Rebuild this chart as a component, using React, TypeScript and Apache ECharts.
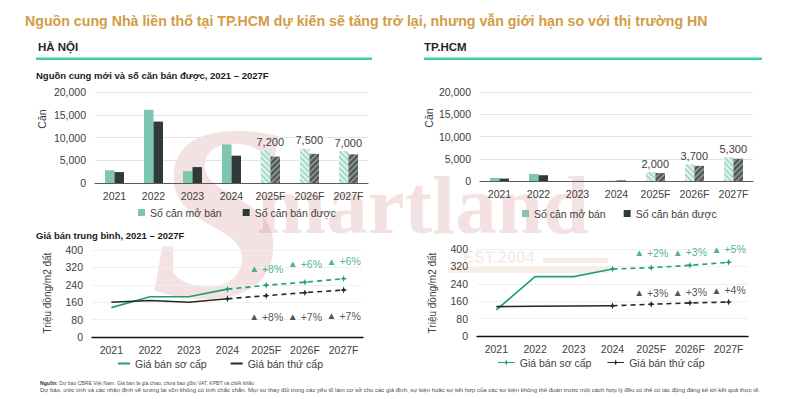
import React, { useEffect, useRef } from 'react';
import * as echarts from 'echarts';

// ---------- data ----------
const years = ['2021', '2022', '2023', '2024', '2025F', '2026F', '2027F'];
const forecastFrom = 4; // index of first forecast year

const hnSupply = [2800, 16100, 2600, 8500, 7200, 7500, 7000];
const hnSold = [2400, 13500, 3500, 6000, 5800, 6400, 6300];
const hcmSupply = [700, 1600, 0, 50, 2000, 3700, 5300];
const hcmSold = [550, 1300, 0, 120, 1800, 3400, 5000];

const hnPrimary = [135, 185, 185, 220, 238, 252, 268];
const hnSecondary = [160, 168, 160, 176, 190, 204, 216];
const hcmPrimary = [120, 273, 273, 308, 314, 325, 339];
const hcmSecondary = [135, 137, 138, 139, 146, 152, 156];

const hnPrimaryGrowth = ['+8%', '+6%', '+6%'];
const hnSecondaryGrowth = ['+8%', '+7%', '+7%'];
const hcmPrimaryGrowth = ['+2%', '+3%', '+5%'];
const hcmSecondaryGrowth = ['+3%', '+3%', '+4%'];
// heights (in price units) at which the growth notes sit
const hnPrimaryNoteAt = [313, 336, 349];
const hnSecondaryNoteAt = [92, 92, 97];
const hcmPrimaryNoteAt = [382, 386, 400];
const hcmSecondaryNoteAt = [198, 202, 211];

const barTicks = { min: 0, max: 20000, interval: 5000 };
const priceTicks = { min: 0, max: 400, interval: 80 };

const SUPPLY = 'Số căn mở bán';
const SOLD = 'Số căn bán được';
const PRIMARY = 'Giá bán sơ cấp';
const SECONDARY = 'Giá bán thứ cấp';

// ---------- styles ----------
const FONT = '"Liberation Sans", Arial, Helvetica, sans-serif';
const MINT = '#7dc7b2';
const MINT_F = '#a6d9ca';
const DARK_BAR = '#2f3b3b';
const DARK_BAR_F = '#4a5454';
const GREEN = '#1f9e78';
const BLACK = '#262626';
const LABEL = '#404040';
const STAR = 'path://M5,0 L6.3,3.7 L10,5 L6.3,6.3 L5,10 L3.7,6.3 L0,5 L3.7,3.7 Z';
const LEGEND_STAR =
  'path://M0,4.3 L18,4.3 L18,5.5 L0,5.5 Z M9,1.6 L9.9,4 L12.3,4.9 L9.9,5.8 L9,8.2 L8.1,5.8 L5.7,4.9 L8.1,4 Z M9,0 L9,0.01 L9.01,0 Z M9,9.8 L9,9.81 L9.01,9.8 Z';

const mintDecal = {
  symbol: 'rect',
  symbolSize: 1,
  dashArrayX: [1, 0],
  dashArrayY: [1.5, 1.5],
  rotation: Math.PI / 4,
  color: 'rgba(255,255,255,0.7)',
};
const darkDecal = {
  symbol: 'rect',
  symbolSize: 1,
  dashArrayX: [1, 0],
  dashArrayY: [1.2, 1.3],
  rotation: -Math.PI / 4,
  color: 'rgba(255,255,255,0.35)',
};

function fmt(v: number) {
  return v.toLocaleString('en-US');
}

function barSeries(name: string, values: number[], idx: number, isSupply: boolean) {
  return {
    type: 'bar',
    name,
    xAxisIndex: idx,
    yAxisIndex: idx,
    barWidth: 9.5,
    barGap: '0%',
    itemStyle: { color: isSupply ? MINT : DARK_BAR },
    label: {
      show: false,
      position: 'top',
      distance: 3,
      offset: [4.5, 0],
      fontSize: 11,
      color: LABEL,
      formatter: (p: any) => fmt(p.value),
    },
    data: values.map((v, i) =>
      i >= forecastFrom
        ? {
            value: v,
            itemStyle: {
              color: isSupply ? MINT_F : DARK_BAR_F,
              decal: isSupply ? mintDecal : darkDecal,
            },
            label: { show: isSupply },
          }
        : v
    ),
  };
}

function lineSeries(name: string, values: number[], idx: number, color: string) {
  const solid = values.map((v, i) => (i <= forecastFrom - 1 ? v : '-'));
  const dashed = values.map((v, i) => (i >= forecastFrom - 1 ? v : '-'));
  return [
    {
      type: 'line',
      name,
      xAxisIndex: idx,
      yAxisIndex: idx,
      data: solid,
      showSymbol: false,
      symbol: STAR,
      symbolSize: 7,
      lineStyle: { color, width: 1.6 },
      itemStyle: { color },
      z: 4,
    },
    {
      type: 'line',
      name,
      xAxisIndex: idx,
      yAxisIndex: idx,
      data: dashed,
      showSymbol: true,
      symbol: STAR,
      symbolSize: 7,
      lineStyle: { color, width: 1.6, type: [5, 4] },
      itemStyle: { color },
      z: 4,
    },
  ];
}

function noteSeries(labels: string[], at: number[], idx: number, color: string) {
  return {
    type: 'scatter',
    xAxisIndex: idx,
    yAxisIndex: idx,
    symbolSize: 1,
    itemStyle: { color: 'transparent' },
    silent: true,
    z: 5,
    label: {
      show: true,
      position: 'inside',
      color,
      rich: {
        t: { fontSize: 10, color, fontFamily: FONT },
        v: { fontSize: 10.5, color, fontFamily: FONT },
      },
    },
    data: labels.map((l, k) => ({
      value: [years[forecastFrom + k], at[k]],
      label: { formatter: `{t|▲}{v| ${l}}` },
    })),
  };
}

const grids = [
  { left: 95, top: 92, width: 273, height: 91 },
  { left: 480, top: 92, width: 273, height: 89 },
  { left: 92, top: 250, width: 271, height: 87 },
  { left: 477, top: 249, width: 271, height: 87 },
];

const xAxes = grids.map((_, i) => ({
  type: 'category',
  gridIndex: i,
  data: years,
  axisTick: { show: false },
  axisLine: { lineStyle: { color: i < 2 ? '#595959' : '#111', width: i < 2 ? 1 : 1.4 } },
  axisLabel: { color: LABEL, fontSize: 10.5, margin: 7, fontFamily: FONT },
}));

const yAxes = grids.map((_, i) => ({
  type: 'value',
  gridIndex: i,
  ...(i < 2 ? barTicks : priceTicks),
  axisLine: { show: false },
  axisTick: { show: false },
  axisLabel: { color: LABEL, fontSize: 10.5, margin: 9, fontFamily: FONT },
  splitLine: { lineStyle: { color: i < 2 ? '#e3e3e3' : '#f0f0f0', width: 1 } },
}));

const legendText = { fontSize: 10.5, color: LABEL, fontFamily: FONT };

const legends = [
  {
    left: 138,
    top: 207,
    padding: 0,
    itemGap: 21,
    itemWidth: 7,
    itemHeight: 7,
    textStyle: legendText,
    data: [
      { name: SUPPLY, icon: 'rect' },
      { name: SOLD, icon: 'rect' },
    ],
  },
  {
    left: 522,
    top: 208,
    padding: 0,
    itemGap: 18,
    itemWidth: 7,
    itemHeight: 7,
    textStyle: legendText,
    data: [
      { name: SUPPLY, icon: 'rect', itemStyle: { color: '#8fbfb0' } },
      { name: SOLD, icon: 'rect' },
    ],
  },
  {
    left: 118,
    top: 358,
    padding: 0,
    itemGap: 24,
    itemWidth: 12,
    itemHeight: 2,
    textStyle: legendText,
    data: [
      { name: PRIMARY, icon: 'rect' },
      { name: SECONDARY, icon: 'rect' },
    ],
  },
  {
    left: 498,
    top: 357,
    padding: 0,
    itemGap: 16,
    itemWidth: 17,
    itemHeight: 9,
    textStyle: legendText,
    data: [
      { name: PRIMARY, icon: LEGEND_STAR },
      { name: SECONDARY, icon: LEGEND_STAR },
    ],
  },
];

const pink = 'rgba(200,105,105,0.2)';

const graphic = [
  // watermark
  {
    type: 'text',
    x: 150,
    y: 212,
    silent: true,
    style: {
      text: 'S',
      font: 'italic bold 250px "Liberation Serif"',
      fill: pink,
      textVerticalAlign: 'middle',
    },
  },
  {
    type: 'text',
    x: 257,
    y: 205,
    silent: true,
    style: {
      text: 'martland',
      font: 'bold 83px "Liberation Serif"',
      fill: pink,
      textVerticalAlign: 'middle',
    },
  },
  {
    type: 'text',
    x: 463,
    y: 257,
    silent: true,
    style: {
      text: 'EST.2004',
      font: 'bold 16.5px ' + FONT,
      fill: 'rgba(200,105,105,0.15)',
      textVerticalAlign: 'middle',
    },
  },
  { type: 'rect', silent: true, shape: { x: 543, y: 258, width: 65, height: 5 }, style: { fill: '#f7ece4' } },
  { type: 'rect', silent: true, shape: { x: 448, y: 267, width: 160, height: 6 }, style: { fill: '#f8eee7' } },
  // title
  {
    type: 'text',
    x: 25,
    y: 21,
    style: {
      text: 'Nguồn cung Nhà liền thổ tại TP.HCM dự kiến sẽ tăng trở lại, nhưng vẫn giới hạn so với thị trường HN',
      font: 'bold 14.2px ' + FONT,
      fill: '#d29c45',
      textVerticalAlign: 'middle',
    },
  },
  {
    type: 'text',
    x: 38,
    y: 47,
    style: { text: 'HÀ NỘI', font: 'bold 11.5px ' + FONT, fill: '#262626', textVerticalAlign: 'middle' },
  },
  {
    type: 'text',
    x: 424,
    y: 47,
    style: { text: 'TP.HCM', font: 'bold 11.5px ' + FONT, fill: '#262626', textVerticalAlign: 'middle' },
  },
  { type: 'rect', shape: { x: 36, y: 57.5, width: 336, height: 2.5 }, style: { fill: '#3fd092' } },
  { type: 'rect', shape: { x: 424, y: 57.5, width: 338, height: 2.5 }, style: { fill: '#3fd092' } },
  {
    type: 'text',
    x: 36,
    y: 75,
    style: {
      text: 'Nguồn cung mới và số căn bán được, 2021 – 2027F',
      font: 'bold 9.5px ' + FONT,
      fill: '#1a1a1a',
      textVerticalAlign: 'middle',
    },
  },
  {
    type: 'text',
    x: 36,
    y: 235,
    style: {
      text: 'Giá bán trung bình, 2021 – 2027F',
      font: 'bold 9.5px ' + FONT,
      fill: '#1a1a1a',
      textVerticalAlign: 'middle',
    },
  },
  // axis names
  {
    type: 'text',
    x: 42,
    y: 119,
    rotation: Math.PI / 2,
    style: { text: 'Căn', font: '10.5px ' + FONT, fill: LABEL, textAlign: 'center', textVerticalAlign: 'middle' },
  },
  {
    type: 'text',
    x: 429,
    y: 118,
    rotation: Math.PI / 2,
    style: { text: 'Căn', font: '10.5px ' + FONT, fill: LABEL, textAlign: 'center', textVerticalAlign: 'middle' },
  },
  {
    type: 'text',
    x: 47,
    y: 293,
    rotation: Math.PI / 2,
    style: {
      text: 'Triệu đồng/m2 đất',
      font: '10px ' + FONT,
      fill: LABEL,
      textAlign: 'center',
      textVerticalAlign: 'middle',
    },
  },
  {
    type: 'text',
    x: 432,
    y: 293,
    rotation: Math.PI / 2,
    style: {
      text: 'Triệu đồng/m2 đất',
      font: '10px ' + FONT,
      fill: LABEL,
      textAlign: 'center',
      textVerticalAlign: 'middle',
    },
  },
  // footnote
  {
    type: 'text',
    x: 40,
    y: 383,
    style: {
      text: '{b|Nguồn:} Dự báo CBRE Việt Nam. Giá bán là giá chào, chưa bao gồm VAT, KPBT và chiết khấu',
      font: '5.1px ' + FONT,
      fill: '#4d4d4d',
      textVerticalAlign: 'middle',
      rich: { b: { fontWeight: 'bold', fontSize: 5.1, fontFamily: FONT, fill: '#333' } },
    },
  },
  {
    type: 'text',
    x: 40,
    y: 390,
    style: {
      text:
        'Dự báo, ước tính và các nhận định về tương lai vốn không có tính chắc chắn. Mọi sự thay đổi trong các yếu tố làm cơ sở cho các giả định, sự kiện hoặc sự kết hợp của các sự kiện không thể đoán trước một cách hợp lý đều có thể có tác động đáng kể tới kết quả thực tế.',
      font: '6px ' + FONT,
      fill: '#4d4d4d',
      textVerticalAlign: 'middle',
    },
  },
];

const option = {
  animation: false,
  backgroundColor: '#ffffff',
  textStyle: { fontFamily: FONT },
  grid: grids,
  xAxis: xAxes,
  yAxis: yAxes,
  legend: legends,
  graphic,
  series: [
    barSeries(SUPPLY, hnSupply, 0, true),
    barSeries(SOLD, hnSold, 0, false),
    barSeries(SUPPLY, hcmSupply, 1, true),
    barSeries(SOLD, hcmSold, 1, false),
    ...lineSeries(PRIMARY, hnPrimary, 2, GREEN),
    ...lineSeries(SECONDARY, hnSecondary, 2, BLACK),
    ...lineSeries(PRIMARY, hcmPrimary, 3, GREEN),
    ...lineSeries(SECONDARY, hcmSecondary, 3, BLACK),
    noteSeries(hnPrimaryGrowth, hnPrimaryNoteAt, 2, GREEN),
    noteSeries(hnSecondaryGrowth, hnSecondaryNoteAt, 2, BLACK),
    noteSeries(hcmPrimaryGrowth, hcmPrimaryNoteAt, 3, GREEN),
    noteSeries(hcmSecondaryGrowth, hcmSecondaryNoteAt, 3, BLACK),
  ],
};

export default function App() {
  const ref = useRef<HTMLDivElement>(null);
  useEffect(() => {
    if (!ref.current) return;
    const chart = echarts.init(ref.current, null, { renderer: 'svg' });
    chart.setOption(option as any);
    return () => chart.dispose();
  }, []);
  return (
    <div
      ref={ref}
      style={{ position: 'fixed', left: 0, top: 0, width: 800, height: 399, background: '#fff' }}
    />
  );
}
